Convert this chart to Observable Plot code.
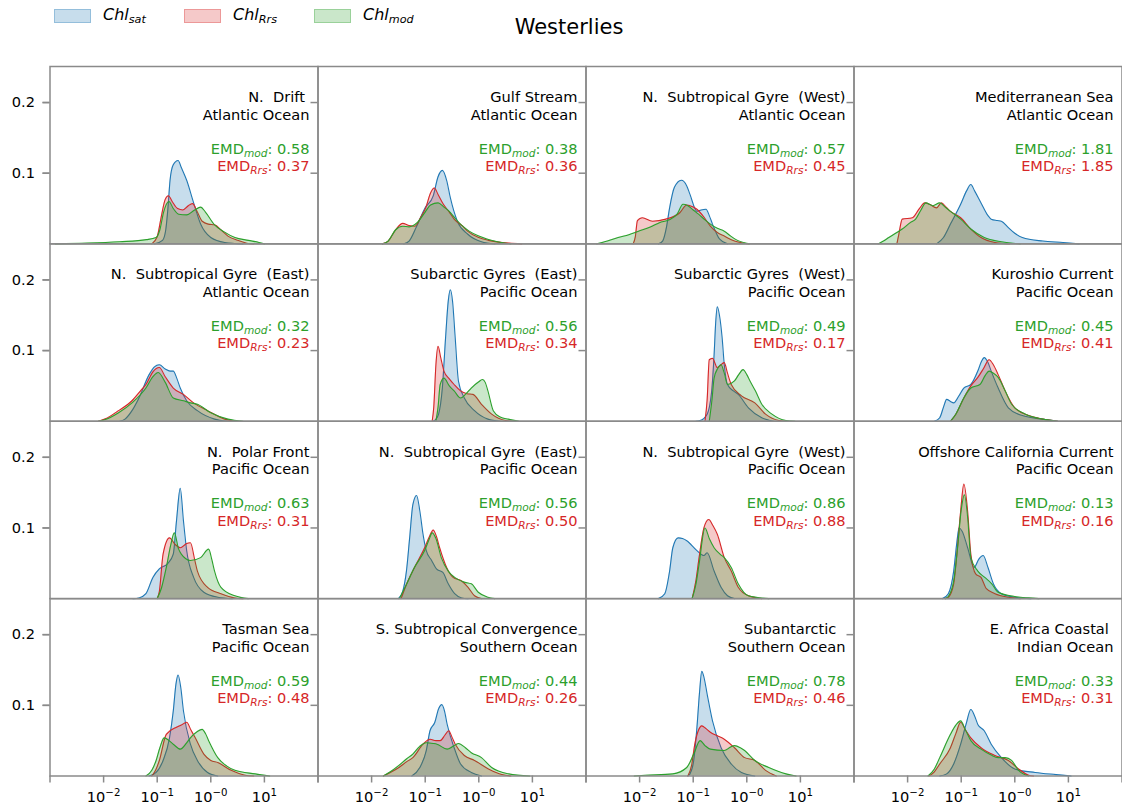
<!DOCTYPE html>
<html><head><meta charset="utf-8">
<script src="https://cdn.jsdelivr.net/npm/d3@7"></script>
<script src="https://cdn.jsdelivr.net/npm/@observablehq/plot@0.6"></script>
<style>
body{margin:0;background:#fff;font-family:"DejaVu Sans",sans-serif;color:#000;}
#wrap{width:1122px;}
#header{position:relative;height:56px;}
.sw{position:absolute;top:9px;width:37px;height:14px;box-sizing:border-box;}
.lt{position:absolute;top:7px;font-size:16px;font-style:italic;line-height:1;white-space:nowrap;}
.lt sub{font-size:0.7em;vertical-align:-0.3em;line-height:0;}
#title{position:absolute;left:569px;top:17px;transform:translateX(-50%);font-size:21px;line-height:1;white-space:nowrap;}
svg text{white-space:pre;}
</style></head>
<body>
<div id="wrap">
  <div id="header"><div id="title">Westerlies</div></div>
  <div id="chart"></div>
</div>
<script>
// ---------------- data ----------------
const seriesKeys = ["sat", "Rrs", "mod"];
const seriesColors = ["#1f77b4", "#d62728", "#2ca02c"];

const regions = [
  "N.  Drift ", "Gulf Stream", "N.  Subtropical Gyre  (West)", "Mediterranean Sea",
  "N.  Subtropical Gyre  (East)", "Subarctic Gyres  (East)", "Subarctic Gyres  (West)", "Kuroshio Current",
  "N.  Polar Front", "N.  Subtropical Gyre  (East)", "N.  Subtropical Gyre  (West)", "Offshore California Current",
  "Tasman Sea", "S. Subtropical Convergence", "Subantarctic  ", "E. Africa Coastal "
];
const oceans = [
  "Atlantic Ocean", "Atlantic Ocean", "Atlantic Ocean", "Atlantic Ocean",
  "Atlantic Ocean", "Pacific Ocean", "Pacific Ocean", "Pacific Ocean",
  "Pacific Ocean", "Pacific Ocean", "Pacific Ocean", "Pacific Ocean",
  "Pacific Ocean", "Southern Ocean", "Southern Ocean", "Indian Ocean"
];
const emdMod = [0.58, 0.38, 0.57, 1.81, 0.32, 0.56, 0.49, 0.45, 0.63, 0.56, 0.86, 0.13, 0.59, 0.44, 0.78, 0.33];
const emdRrs = [0.37, 0.36, 0.45, 1.85, 0.23, 0.34, 0.17, 0.41, 0.31, 0.50, 0.88, 0.16, 0.48, 0.26, 0.46, 0.31];

const xTicks = [1e-3, 1e-2, 1e-1, 1, 10, 100];
const xTickLabels = ["", "10^−2", "10^−1", "10^−0", "10^1", ""];
const yTicks = [0.1, 0.2];
const yTickLabels = ["0.1", "0.2"];

// densities: [log10(Chl), density] per panel
const chlSat = [
  [[-1.05,0],[-0.9,0.005],[-0.84,0.02],[-0.8,0.05],[-0.76,0.09],[-0.7,0.112],[-0.61,0.118],[-0.55,0.108],[-0.45,0.09],[-0.32,0.058],[-0.19,0.028],[0.0,0.009],[0.26,0.002],[0.6,0]],
  [[-1.4,0],[-1.3,0.004],[-1.17,0.023],[-1.0,0.051],[-0.85,0.068],[-0.76,0.095],[-0.68,0.104],[-0.6,0.09],[-0.53,0.065],[-0.4,0.032],[-0.21,0.014],[0.05,0.003],[0.3,0]],
  [[-1.65,0],[-1.57,0.004],[-1.5,0.023],[-1.44,0.051],[-1.35,0.08],[-1.22,0.09],[-1.12,0.082],[-1.06,0.07],[-0.93,0.046],[-0.85,0.048],[-0.76,0.049],[-0.7,0.04],[-0.64,0.028],[-0.51,0.007],[-0.36,0]],
  [[-1.46,0],[-1.33,0.009],[-1.2,0.028],[-1.01,0.056],[-0.9,0.075],[-0.82,0.084],[-0.75,0.075],[-0.63,0.058],[-0.5,0.04],[-0.44,0.035],[-0.33,0.033],[-0.25,0.032],[-0.12,0.023],[0.0,0.015],[0.14,0.009],[0.52,0.004],[0.9,0.002],[1.2,0]],
  [[-1.7,0],[-1.6,0.003],[-1.47,0.015],[-1.34,0.033],[-1.15,0.066],[-1.05,0.077],[-0.96,0.08],[-0.85,0.074],[-0.76,0.071],[-0.7,0.071],[-0.63,0.06],[-0.57,0.047],[-0.45,0.029],[-0.25,0.015],[0.07,0.003],[0.3,0]],
  [[-0.85,0],[-0.78,0.005],[-0.75,0.01],[-0.68,0.047],[-0.62,0.118],[-0.57,0.17],[-0.53,0.186],[-0.49,0.17],[-0.44,0.118],[-0.38,0.057],[-0.27,0.033],[-0.08,0.015],[0.17,0.003],[0.4,0]],
  [[-0.95,0],[-0.87,0.001],[-0.74,0.01],[-0.65,0.047],[-0.61,0.094],[-0.58,0.14],[-0.55,0.162],[-0.51,0.15],[-0.46,0.118],[-0.42,0.08],[-0.36,0.052],[-0.25,0.043],[-0.16,0.038],[0.03,0.019],[0.28,0.005],[0.5,0]],
  [[-1.5,0],[-1.4,0.005],[-1.33,0.02],[-1.27,0.031],[-1.2,0.028],[-1.14,0.026],[-1.05,0.035],[-0.95,0.047],[-0.82,0.052],[-0.69,0.071],[-0.62,0.085],[-0.57,0.09],[-0.5,0.083],[-0.44,0.071],[-0.31,0.047],[-0.12,0.019],[0.14,0.008],[0.52,0.003],[0.8,0]],
  [[-1.45,0],[-1.34,0.001],[-1.21,0.007],[-1.08,0.03],[-0.96,0.042],[-0.8,0.05],[-0.7,0.063],[-0.64,0.11],[-0.57,0.156],[-0.51,0.11],[-0.45,0.068],[-0.32,0.03],[-0.13,0.009],[0.13,0.002],[0.4,0]],
  [[-1.5,0],[-1.42,0.01],[-1.35,0.039],[-1.29,0.086],[-1.23,0.133],[-1.16,0.146],[-1.1,0.124],[-1.04,0.091],[-0.98,0.068],[-0.88,0.054],[-0.79,0.042],[-0.67,0.037],[-0.57,0.021],[-0.45,0.007],[-0.32,0.001],[-0.2,0]],
  [[-1.65,0],[-1.53,0.007],[-1.44,0.039],[-1.38,0.072],[-1.28,0.086],[-1.2,0.085],[-1.12,0.082],[-0.93,0.068],[-0.8,0.061],[-0.74,0.065],[-0.61,0.039],[-0.48,0.016],[-0.36,0.004],[-0.23,0]],
  [[-1.35,0],[-1.24,0.007],[-1.14,0.039],[-1.08,0.08],[-1.04,0.1],[-0.98,0.095],[-0.88,0.072],[-0.76,0.044],[-0.67,0.056],[-0.59,0.061],[-0.5,0.044],[-0.4,0.021],[-0.25,0.007],[0.0,0.002],[0.3,0]],
  [[-1.15,0],[-1.02,0.005],[-0.89,0.022],[-0.77,0.054],[-0.7,0.092],[-0.65,0.13],[-0.61,0.143],[-0.56,0.125],[-0.51,0.092],[-0.38,0.045],[-0.25,0.022],[-0.06,0.005],[0.13,0]],
  [[-1.25,0],[-1.1,0.012],[-0.98,0.036],[-0.91,0.064],[-0.82,0.076],[-0.75,0.095],[-0.69,0.101],[-0.64,0.092],[-0.59,0.073],[-0.46,0.04],[-0.34,0.017],[-0.14,0.005],[0.05,0]],
  [[-1.1,0],[-1.06,0.003],[-0.99,0.022],[-0.93,0.069],[-0.88,0.12],[-0.84,0.148],[-0.8,0.14],[-0.74,0.116],[-0.64,0.078],[-0.48,0.04],[-0.29,0.017],[-0.1,0.005],[0.15,0]],
  [[-1.4,0],[-1.27,0.003],[-1.14,0.017],[-1.01,0.045],[-0.91,0.073],[-0.82,0.094],[-0.75,0.085],[-0.69,0.073],[-0.57,0.064],[-0.44,0.045],[-0.25,0.026],[0.0,0.01],[0.38,0.005],[0.77,0.002],[1.05,0]]
];
const chlRrs = [
  [[-1.1,0],[-1.0,0.01],[-0.92,0.04],[-0.85,0.063],[-0.79,0.068],[-0.72,0.06],[-0.62,0.05],[-0.52,0.048],[-0.42,0.054],[-0.34,0.057],[-0.25,0.045],[-0.16,0.032],[-0.05,0.028],[0.07,0.027],[0.2,0.019],[0.32,0.011],[0.5,0.005],[0.67,0.001],[0.8,0]],
  [[-1.8,0],[-1.69,0.004],[-1.55,0.02],[-1.42,0.029],[-1.3,0.026],[-1.19,0.025],[-1.08,0.038],[-0.99,0.051],[-0.9,0.072],[-0.83,0.079],[-0.76,0.07],[-0.66,0.056],[-0.55,0.045],[-0.46,0.035],[-0.3,0.025],[-0.21,0.018],[0,0.009],[0.18,0.005],[0.56,0.001],[0.8,0]],
  [[-2.12,0],[-2.08,0.01],[-2.04,0.033],[-1.95,0.037],[-1.76,0.032],[-1.51,0.035],[-1.25,0.044],[-1.12,0.055],[-1.06,0.054],[-0.93,0.049],[-0.8,0.038],[-0.68,0.025],[-0.55,0.016],[-0.42,0.011],[-0.23,0.004],[0.03,0]],
  [[-2.2,0],[-2.16,0.015],[-2.1,0.035],[-1.91,0.037],[-1.78,0.05],[-1.68,0.058],[-1.59,0.056],[-1.46,0.051],[-1.37,0.058],[-1.28,0.052],[-1.2,0.046],[-1.01,0.037],[-0.82,0.021],[-0.63,0.009],[-0.37,0.002],[-0.1,0]],
  [[-2.1,0],[-1.98,0.003],[-1.72,0.015],[-1.47,0.029],[-1.3,0.044],[-1.21,0.052],[-1.08,0.07],[-0.96,0.076],[-0.85,0.063],[-0.7,0.047],[-0.51,0.038],[-0.32,0.026],[-0.06,0.015],[0.26,0.003],[0.5,0]],
  [[-0.87,0],[-0.84,0.02],[-0.8,0.08],[-0.76,0.106],[-0.71,0.09],[-0.65,0.071],[-0.55,0.06],[-0.46,0.052],[-0.34,0.043],[-0.22,0.039],[-0.11,0.038],[0.05,0.024],[0.24,0.01],[0.5,0.001],[0.65,0]],
  [[-0.78,0],[-0.74,0.03],[-0.7,0.087],[-0.64,0.089],[-0.55,0.076],[-0.48,0.08],[-0.42,0.083],[-0.36,0.068],[-0.29,0.052],[-0.1,0.036],[0.15,0.026],[0.35,0.01],[0.6,0.001],[0.75,0]],
  [[-1.2,0],[-1.1,0.01],[-0.95,0.033],[-0.82,0.05],[-0.69,0.062],[-0.58,0.075],[-0.48,0.087],[-0.4,0.08],[-0.31,0.066],[-0.18,0.043],[0.0,0.019],[0.26,0.008],[0.52,0.003],[0.8,0]],
  [[-1.0,0],[-0.96,0.01],[-0.89,0.063],[-0.77,0.086],[-0.67,0.077],[-0.57,0.072],[-0.45,0.078],[-0.38,0.079],[-0.3,0.055],[-0.25,0.039],[-0.06,0.016],[0.19,0.007],[0.45,0.001],[0.6,0]],
  [[-1.45,0],[-1.35,0.02],[-1.2,0.044],[-1.01,0.072],[-0.92,0.088],[-0.85,0.097],[-0.79,0.088],[-0.73,0.072],[-0.6,0.044],[-0.48,0.03],[-0.32,0.025],[-0.2,0.016],[-0.08,0.004],[0.05,0]],
  [[-1.02,0],[-0.95,0.025],[-0.89,0.058],[-0.8,0.1],[-0.71,0.112],[-0.63,0.103],[-0.55,0.091],[-0.42,0.058],[-0.29,0.039],[-0.16,0.016],[0.03,0.004],[0.28,0]],
  [[-1.3,0],[-1.24,0.002],[-1.14,0.021],[-1.08,0.063],[-1.01,0.124],[-0.95,0.162],[-0.88,0.124],[-0.82,0.063],[-0.73,0.035],[-0.63,0.03],[-0.53,0.014],[-0.37,0.007],[-0.12,0.002],[0.1,0]],
  [[-1.1,0],[-1.03,0.008],[-0.96,0.022],[-0.83,0.059],[-0.64,0.069],[-0.55,0.072],[-0.45,0.076],[-0.37,0.065],[-0.29,0.054],[-0.13,0.031],[0.0,0.022],[0.13,0.019],[0.38,0.008],[0.64,0.001],[0.8,0]],
  [[-1.78,0],[-1.65,0.005],[-1.49,0.012],[-1.35,0.02],[-1.23,0.026],[-1.04,0.045],[-0.91,0.052],[-0.8,0.05],[-0.72,0.05],[-0.63,0.058],[-0.56,0.064],[-0.5,0.055],[-0.44,0.045],[-0.27,0.029],[-0.08,0.022],[0.18,0.01],[0.43,0.002],[0.6,0]],
  [[-1.1,0],[-1.03,0.015],[-0.97,0.045],[-0.9,0.065],[-0.84,0.071],[-0.76,0.067],[-0.68,0.062],[-0.55,0.057],[-0.42,0.052],[-0.23,0.04],[-0.04,0.026],[0.15,0.022],[0.35,0.008],[0.55,0]],
  [[-1.6,0],[-1.5,0.006],[-1.4,0.017],[-1.2,0.04],[-1.1,0.06],[-1.01,0.076],[-0.92,0.065],[-0.82,0.054],[-0.63,0.04],[-0.37,0.029],[-0.12,0.022],[0.07,0.01],[0.26,0.001],[0.35,0]]
];
const chlMod = [
  [[-2.9,0],[-2.3,0.001],[-1.7,0.003],[-1.2,0.006],[-1.02,0.009],[-0.95,0.02],[-0.88,0.045],[-0.78,0.06],[-0.7,0.05],[-0.6,0.042],[-0.45,0.041],[-0.3,0.048],[-0.19,0.052],[-0.1,0.045],[0.07,0.027],[0.25,0.017],[0.45,0.009],[0.7,0.005],[0.9,0.002],[1.0,0]],
  [[-1.8,0],[-1.69,0.004],[-1.55,0.02],[-1.42,0.025],[-1.3,0.024],[-1.15,0.03],[-1.0,0.045],[-0.9,0.055],[-0.76,0.058],[-0.65,0.052],[-0.55,0.046],[-0.45,0.037],[-0.3,0.025],[-0.18,0.018],[0,0.011],[0.15,0.007],[0.35,0.003],[0.6,0]],
  [[-2.8,0],[-2.6,0.004],[-2.4,0.009],[-2.2,0.013],[-2.02,0.018],[-1.8,0.024],[-1.63,0.03],[-1.45,0.034],[-1.3,0.042],[-1.19,0.056],[-1.1,0.054],[-1.0,0.048],[-0.9,0.042],[-0.78,0.034],[-0.68,0.028],[-0.55,0.022],[-0.42,0.018],[-0.3,0.011],[-0.2,0.006],[0.05,0]],
  [[-2.55,0],[-2.45,0.004],[-2.35,0.009],[-2.2,0.016],[-2.1,0.021],[-1.95,0.03],[-1.85,0.035],[-1.75,0.048],[-1.66,0.058],[-1.53,0.054],[-1.4,0.058],[-1.3,0.052],[-1.2,0.046],[-1.01,0.035],[-0.82,0.021],[-0.57,0.009],[-0.25,0.003],[0.1,0]],
  [[-2.1,0],[-1.98,0.002],[-1.72,0.012],[-1.47,0.026],[-1.21,0.047],[-1.08,0.063],[-0.98,0.069],[-0.85,0.055],[-0.7,0.033],[-0.51,0.029],[-0.38,0.026],[-0.25,0.024],[0.0,0.012],[0.32,0.003],[0.6,0]],
  [[-0.8,0],[-0.76,0.02],[-0.72,0.052],[-0.65,0.061],[-0.55,0.05],[-0.46,0.043],[-0.34,0.033],[-0.25,0.038],[-0.14,0.047],[0.0,0.056],[0.07,0.059],[0.12,0.055],[0.17,0.043],[0.27,0.015],[0.4,0.006],[0.55,0.003],[0.75,0]],
  [[-0.7,0],[-0.65,0.03],[-0.61,0.061],[-0.54,0.075],[-0.48,0.08],[-0.42,0.068],[-0.36,0.052],[-0.23,0.057],[-0.15,0.066],[-0.07,0.073],[0.0,0.066],[0.06,0.057],[0.16,0.043],[0.28,0.024],[0.47,0.01],[0.73,0.001],[0.9,0]],
  [[-1.2,0],[-1.1,0.01],[-0.95,0.033],[-0.82,0.047],[-0.65,0.052],[-0.55,0.065],[-0.48,0.071],[-0.4,0.068],[-0.31,0.062],[-0.18,0.043],[-0.06,0.024],[0.2,0.01],[0.52,0.003],[0.8,0]],
  [[-1.0,0],[-0.92,0.015],[-0.83,0.044],[-0.75,0.075],[-0.68,0.093],[-0.6,0.07],[-0.55,0.063],[-0.38,0.054],[-0.19,0.058],[-0.04,0.07],[0.02,0.055],[0.07,0.039],[0.19,0.016],[0.45,0.004],[0.7,0]],
  [[-1.48,0],[-1.35,0.02],[-1.2,0.044],[-1.01,0.068],[-0.92,0.085],[-0.87,0.093],[-0.8,0.085],[-0.7,0.058],[-0.57,0.039],[-0.45,0.03],[-0.26,0.023],[-0.14,0.021],[-0.01,0.009],[0.17,0.002],[0.3,0]],
  [[-1.02,0],[-0.95,0.02],[-0.89,0.049],[-0.78,0.1],[-0.7,0.085],[-0.61,0.072],[-0.5,0.063],[-0.42,0.058],[-0.29,0.044],[-0.16,0.021],[0.03,0.004],[0.41,0]],
  [[-1.3,0],[-1.24,0.003],[-1.14,0.025],[-1.07,0.07],[-1.0,0.125],[-0.94,0.147],[-0.88,0.115],[-0.82,0.058],[-0.69,0.039],[-0.56,0.03],[-0.43,0.021],[-0.31,0.009],[0.0,0.003],[0.26,0.001],[0.45,0]],
  [[-1.21,0],[-1.1,0.008],[-1.02,0.022],[-0.95,0.04],[-0.87,0.054],[-0.7,0.045],[-0.57,0.038],[-0.45,0.047],[-0.38,0.054],[-0.25,0.063],[-0.16,0.066],[-0.1,0.06],[-0.04,0.05],[0.13,0.026],[0.3,0.014],[0.45,0.008],[0.83,0.003],[1.1,0]],
  [[-1.78,0],[-1.65,0.006],[-1.49,0.015],[-1.35,0.024],[-1.23,0.031],[-1.1,0.042],[-0.98,0.047],[-0.85,0.046],[-0.78,0.045],[-0.59,0.038],[-0.48,0.042],[-0.38,0.046],[-0.25,0.04],[-0.14,0.033],[0.05,0.026],[0.24,0.012],[0.56,0.003],[0.95,0]],
  [[-2.1,0],[-1.89,0.001],[-1.38,0.003],[-1.12,0.012],[-0.99,0.031],[-0.87,0.05],[-0.78,0.043],[-0.68,0.038],[-0.42,0.036],[-0.3,0.041],[-0.23,0.043],[-0.12,0.04],[-0.04,0.036],[0.15,0.022],[0.41,0.012],[0.73,0.003],[0.92,0]],
  [[-1.62,0],[-1.5,0.01],[-1.4,0.026],[-1.2,0.059],[-1.1,0.072],[-1.01,0.078],[-0.92,0.065],[-0.82,0.05],[-0.63,0.038],[-0.45,0.03],[-0.31,0.026],[-0.18,0.026],[-0.06,0.022],[0.07,0.008],[0.26,0]]
];
const curveSets = [chlSat, chlRrs, chlMod];

// ---------------- legend ----------------
const header = document.getElementById("header");
seriesKeys.forEach((s, i) => {
  const c = d3.color(seriesColors[i]);
  const sw = document.createElement("div");
  sw.className = "sw";
  sw.style.left = (54 + i * 130) + "px";
  sw.style.background = `rgba(${c.r},${c.g},${c.b},0.25)`;
  sw.style.border = `1px solid rgba(${c.r},${c.g},${c.b},0.3)`;
  header.appendChild(sw);
  const lt = document.createElement("div");
  lt.className = "lt";
  lt.style.left = (103 + i * 130) + "px";
  lt.innerHTML = `Chl<sub>${s}</sub>`;
  header.appendChild(lt);
});

// ---------------- chart ----------------
function rowsFor(curves, series) {
  return curves.flatMap((pts, p) => pts.map(([lx, v]) => ({
    series, panel: p, col: p % 4, row: Math.floor(p / 4), chl: 10 ** lx, density: v
  })));
}
const panels = regions.map((r, p) => ({
  col: p % 4, row: Math.floor(p / 4), region: r, ocean: oceans[p],
  mod: `EMD_mod: ${emdMod[p].toFixed(2)}`, rrs: `EMD_Rrs: ${emdRrs[p].toFixed(2)}`
}));

const curveMarks = seriesKeys.flatMap((s, i) => {
  const data = rowsFor(curveSets[i], s);
  return [
    Plot.areaY(data, {x: "chl", y: "density", fx: "col", fy: "row", fill: seriesColors[i], fillOpacity: 0.25, curve: "monotone-x"}),
    Plot.lineY(data, {x: "chl", y: "density", fx: "col", fy: "row", stroke: seriesColors[i], strokeWidth: 1.1, curve: "monotone-x"})
  ];
});

const FS = 14.6;
const textOpts = {fx: "col", fy: "row", frameAnchor: "top-right", textAnchor: "end", lineAnchor: "bottom", dx: -8.5, fontSize: FS};
const gray = "#8a8a8a";

const svg = Plot.plot({
  width: 1122, height: 753,
  marginTop: 10, marginBottom: 33.5, marginLeft: 49.5, marginRight: 0.5,
  fx: {domain: [0, 1, 2, 3], padding: 0, axis: null, round: false, label: null},
  fy: {domain: [0, 1, 2, 3], padding: 0, axis: null, round: false, label: null},
  x: {type: "log", domain: [1e-3, 1e2], label: null},
  y: {domain: [0, 0.251], label: null},
  style: {fontFamily: "'DejaVu Sans', sans-serif", fontSize: FS + "px", color: "black", background: "white", overflow: "visible"},
  marks: [
    ...curveMarks,
    Plot.text(panels, {...textOpts, text: "region", dy: 35.4, fill: "black"}),
    Plot.text(panels, {...textOpts, text: "ocean", dy: 53.0, fill: "black"}),
    Plot.text(panels, {...textOpts, text: "mod", dy: 87.0, fill: seriesColors[2]}),
    Plot.text(panels, {...textOpts, text: "rrs", dy: 104.4, fill: seriesColors[1]}),
    Plot.frame({stroke: gray, strokeWidth: 1.5}),
    Plot.axisY({ticks: yTicks, tickSize: 7, tickPadding: 8, tickFormat: () => "", facetAnchor: null, stroke: gray, strokeWidth: 1.5, label: null}),
    Plot.axisY({ticks: yTicks, tickSize: 7, tickPadding: 8, tickFormat: (d) => yTickLabels[yTicks.indexOf(d)], stroke: gray, strokeWidth: 1.5, fill: "black", fontSize: FS, label: null}),
    Plot.axisX({ticks: xTicks, tickSize: 7, tickPadding: 9, tickFormat: (d) => xTickLabels[xTicks.indexOf(d)], stroke: gray, strokeWidth: 1.5, fill: "black", fontSize: FS, label: null})
  ]
});

// rich text: subscripts and superscripts
const NS = "http://www.w3.org/2000/svg";
function addSpan(parent, txt, attrs) {
  const t = document.createElementNS(NS, "tspan");
  for (const k in attrs) t.setAttribute(k, attrs[k]);
  t.textContent = txt;
  parent.appendChild(t);
  return t;
}
d3.select(svg).selectAll("text").each(function () {
  this.setAttributeNS("http://www.w3.org/XML/1998/namespace", "xml:space", "preserve");
  const t = this.textContent;
  let m;
  if ((m = t.match(/^EMD_(\w+): (.+)$/))) {
    this.textContent = "";
    addSpan(this, "EMD", {});
    addSpan(this, m[1], {"font-size": "10.6", "font-style": "italic", dy: "3.2"});
    addSpan(this, ": " + m[2], {dy: "-3.2"});
  } else if ((m = t.match(/^10\^(.+)$/))) {
    this.textContent = "";
    addSpan(this, "10", {});
    addSpan(this, m[1], {"font-size": "10.2", dy: "-6"});
  }
});

document.getElementById("chart").appendChild(svg);
</script>
</body></html>
